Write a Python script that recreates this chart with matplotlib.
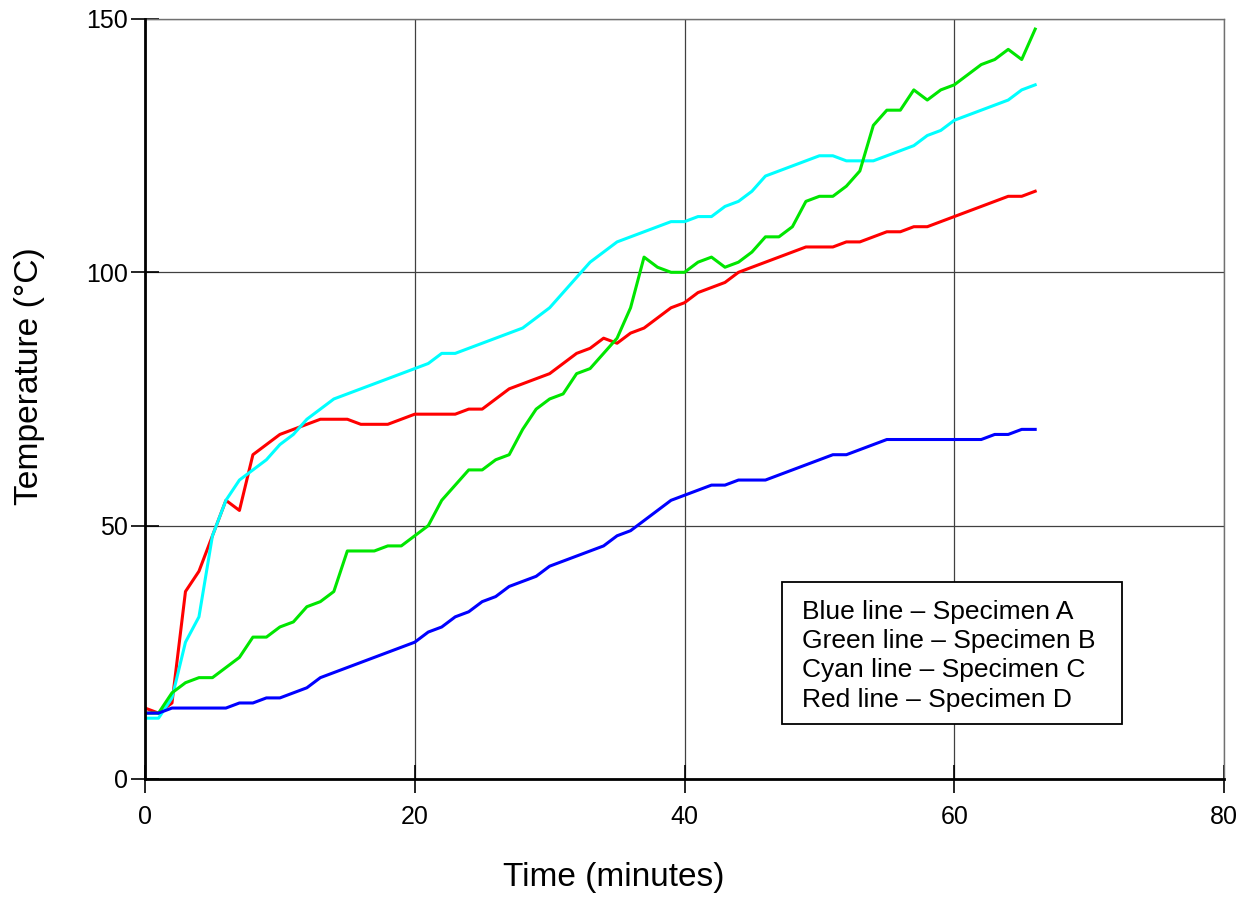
import matplotlib
matplotlib.use("Agg")
import matplotlib.pyplot as plt
from matplotlib.patches import Rectangle

plt.rcParams['font.family'] = ['Liberation Sans', 'DejaVu Sans']

# time in minutes, one reading per minute
minutes = list(range(0, 67))

# Specimen A (blue)
spec_a = [13, 13, 14, 14, 14, 14, 14, 15, 15, 16, 16, 17, 18, 20, 21, 22, 23, 24, 25, 26,
          27, 29, 30, 32, 33, 35, 36, 38, 39, 40, 42, 43, 44, 45, 46, 48, 49, 51, 53, 55,
          56, 57, 58, 58, 59, 59, 59, 60, 61, 62, 63, 64, 64, 65, 66, 67, 67, 67, 67, 67,
          67, 67, 67, 68, 68, 69, 69]
# Specimen B (green)
spec_b = [13, 13, 17, 19, 20, 20, 22, 24, 28, 28, 30, 31, 34, 35, 37, 45, 45, 45, 46, 46,
          48, 50, 55, 58, 61, 61, 63, 64, 69, 73, 75, 76, 80, 81, 84, 87, 93, 103, 101, 100,
          100, 102, 103, 101, 102, 104, 107, 107, 109, 114, 115, 115, 117, 120, 129, 132, 132, 136, 134, 136,
          137, 139, 141, 142, 144, 142, 148]
# Specimen C (cyan)
spec_c = [12, 12, 16, 27, 32, 48, 55, 59, 61, 63, 66, 68, 71, 73, 75, 76, 77, 78, 79, 80,
          81, 82, 84, 84, 85, 86, 87, 88, 89, 91, 93, 96, 99, 102, 104, 106, 107, 108, 109, 110,
          110, 111, 111, 113, 114, 116, 119, 120, 121, 122, 123, 123, 122, 122, 122, 123, 124, 125, 127, 128,
          130, 131, 132, 133, 134, 136, 137]
# Specimen D (red)
spec_d = [14, 13, 15, 37, 41, 48, 55, 53, 64, 66, 68, 69, 70, 71, 71, 71, 70, 70, 70, 71,
          72, 72, 72, 72, 73, 73, 75, 77, 78, 79, 80, 82, 84, 85, 87, 86, 88, 89, 91, 93,
          94, 96, 97, 98, 100, 101, 102, 103, 104, 105, 105, 105, 106, 106, 107, 108, 108, 109, 109, 110,
          111, 112, 113, 114, 115, 115, 116]

legend_lines = ["Blue line \u2013 Specimen A",
                "Green line \u2013 Specimen B",
                "Cyan line \u2013 Specimen C",
                "Red line \u2013 Specimen D"]

fig = plt.figure(figsize=(12.49, 8.99), dpi=100)
ax = fig.add_axes([0.1161, 0.1335, 0.8639, 0.8454])

ax.plot(minutes, spec_d, color='#ff0000', lw=2.2, zorder=3)
ax.plot(minutes, spec_c, color='#00ffff', lw=2.2, zorder=3)
ax.plot(minutes, spec_b, color='#00e600', lw=2.2, zorder=3)
ax.plot(minutes, spec_a, color='#0000ff', lw=2.2, zorder=3)

ax.set_xlim(0, 80)
ax.set_ylim(0, 150)
ax.set_xticks([0, 20, 40, 60, 80])
ax.set_yticks([0, 50, 100, 150])
ax.grid(True, color='#404040', lw=0.9)

for side in ['left', 'bottom']:
    ax.spines[side].set_linewidth(2.0)
    ax.spines[side].set_color('black')
    ax.spines[side].set_zorder(4)
for side in ['top', 'right']:
    ax.spines[side].set_linewidth(1.0)
    ax.spines[side].set_color('#707070')

ax.tick_params(axis='both', direction='inout', length=20, width=1.2, labelsize=18)
ax.tick_params(axis='y', pad=2.5)
ax.tick_params(axis='x', pad=9)

ax.set_xlabel('Time (minutes)', fontsize=24)
ax.set_ylabel('Temperature (\u00b0C)', fontsize=24.2)
ax.xaxis.set_label_coords(0.434, -0.129)
ax.xaxis.label.set_va('center')
ax.yaxis.set_label_coords(-0.1075, 0.5296)
ax.yaxis.label.set_va('center')

# text box with specimen descriptions
ax.add_patch(Rectangle((0.590, 0.0724), 0.315, 0.1872, transform=ax.transAxes,
                       facecolor='white', edgecolor='black', lw=1.3, zorder=5))
ax.text(0.609, 0.162, "\n".join(legend_lines), transform=ax.transAxes,
        fontsize=19, va='center', ha='left', linespacing=1.27, zorder=6)

fig.savefig('out.png', dpi=100)
